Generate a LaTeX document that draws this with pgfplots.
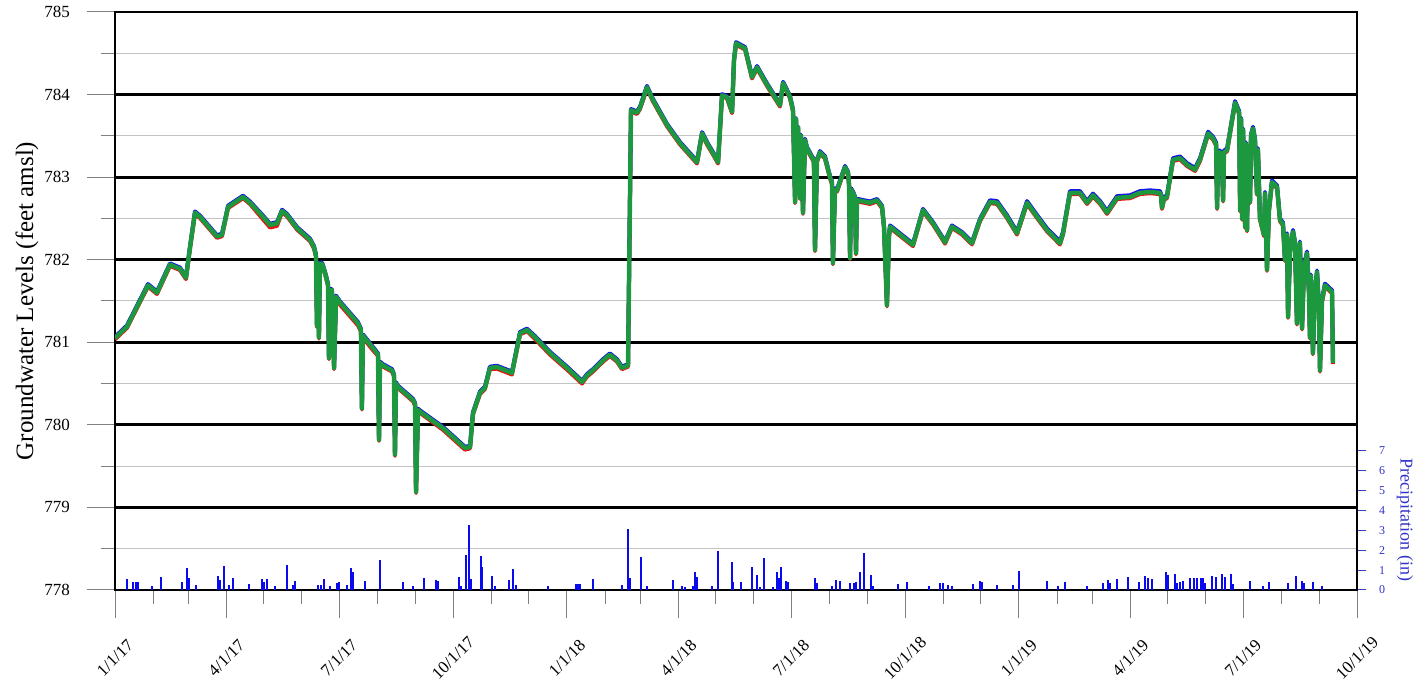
\documentclass[border=0pt]{standalone}
\usepackage{pgfplots}
\pgfplotsset{compat=1.18}
\usepackage{pgfplotstable}
\usepackage{fontspec}
\setmainfont{Liberation Serif}

\definecolor{gwgreen}{RGB}{28,152,62}
\definecolor{gwred}{RGB}{232,20,20}
\definecolor{gwblue}{RGB}{20,20,235}
\definecolor{pcpblue}{RGB}{10,10,240}
\definecolor{pcptext}{RGB}{50,50,200}
\definecolor{minorgrid}{RGB}{195,195,195}

% Groundwater levels (feet amsl); day = days since 1/1/2017
\pgfplotstableread{
day red blue green
0 781.035 781.065 781.05
9.7 781.175 781.205 781.19
17.8 781.415 781.445 781.43
26.6 781.675 781.705 781.69
33.9 781.585 781.615 781.60
44.4 781.925 781.955 781.94
52.5 781.875 781.905 781.89
57.3 781.765 781.795 781.78
60.6 782.135 782.165 782.15
64.6 782.555 782.585 782.57
68.6 782.505 782.535 782.52
82.4 782.265 782.295 782.28
86.4 782.285 782.315 782.30
91.3 782.625 782.655 782.64
103.4 782.745 782.775 782.76
109.0 782.675 782.705 782.69
119.5 782.49 782.535 782.52
125.2 782.39 782.435 782.42
130.8 782.41 782.455 782.44
134.9 782.575 782.605 782.59
138.9 782.525 782.555 782.54
147.0 782.365 782.395 782.38
157.5 782.225 782.255 782.24
160.7 782.135 782.165 782.15
162.3 782.035 782.065 782.05
163.1 781.185 781.215 781.20
163.9 781.935 781.965 781.95
164.7 781.045 781.075 781.06
165.5 781.935 781.965 781.95
167.2 781.935 781.965 781.95
169.6 781.825 781.855 781.84
172.0 781.685 781.715 781.70
172.8 780.795 780.825 780.81
173.6 781.615 781.645 781.63
175.2 781.615 781.645 781.63
176.9 780.675 780.705 780.69
178.5 781.535 781.565 781.55
181.7 781.455 781.495 781.48
196.2 781.205 781.245 781.23
198.6 781.135 781.165 781.15
199.4 780.185 780.215 780.20
200.2 781.065 781.095 781.08
201.9 781.025 781.065 781.05
208.3 780.905 780.945 780.93
212.4 780.835 780.865 780.85
213.2 779.805 779.835 779.82
214.0 780.735 780.765 780.75
216.4 780.705 780.735 780.72
223.7 780.645 780.675 780.66
225.3 780.585 780.615 780.60
226.1 779.625 779.655 779.64
226.9 780.485 780.515 780.50
228.5 780.445 780.475 780.46
240.7 780.285 780.315 780.30
242.3 780.235 780.265 780.25
243.1 779.175 779.205 779.19
244.7 780.165 780.195 780.18
246.3 780.145 780.175 780.16
264.9 779.94 779.975 779.96
282.6 779.70 779.735 779.72
286.7 779.715 779.745 779.73
289.1 780.125 780.155 780.14
294.8 780.375 780.405 780.39
298.8 780.435 780.465 780.45
302.8 780.675 780.705 780.69
308.5 780.68 780.715 780.70
320.6 780.61 780.645 780.63
327.1 781.095 781.125 781.11
332.7 781.135 781.165 781.15
339.2 781.04 781.075 781.06
351.3 780.85 780.885 780.87
365.0 780.67 780.705 780.69
377.1 780.50 780.535 780.52
381.2 780.585 780.615 780.60
386.0 780.645 780.675 780.66
394.1 780.765 780.795 780.78
399.7 780.835 780.865 780.85
405.4 780.765 780.795 780.78
409.4 780.675 780.705 780.69
414.3 780.705 780.735 780.72
416.7 783.795 783.825 783.81
421.5 783.765 783.795 783.78
424.0 783.825 783.855 783.84
429.6 784.075 784.105 784.09
434.5 783.915 783.945 783.93
445.8 783.615 783.645 783.63
456.3 783.395 783.425 783.41
470.0 783.165 783.195 783.18
474.1 783.515 783.545 783.53
478.1 783.395 783.425 783.41
482.9 783.275 783.305 783.29
487.0 783.165 783.195 783.18
490.2 783.975 784.005 783.99
494.2 783.955 783.985 783.97
498.3 783.775 783.805 783.79
499.9 784.405 784.435 784.42
501.5 784.605 784.635 784.62
508.8 784.545 784.575 784.56
514.4 784.195 784.225 784.21
518.5 784.315 784.345 784.33
526.5 784.105 784.135 784.12
537.0 783.855 783.885 783.87
539.5 784.125 784.155 784.14
545.1 783.955 783.985 783.97
547.5 783.795 783.825 783.81
549.2 782.685 782.715 782.70
550.0 783.685 783.715 783.70
550.8 782.835 782.865 782.85
551.6 783.585 783.615 783.60
553.2 782.735 782.765 782.75
554.0 783.485 783.515 783.50
555.6 782.555 782.585 782.57
557.2 783.435 783.465 783.45
558.8 783.335 783.365 783.35
562.8 783.225 783.255 783.24
564.4 783.185 783.215 783.20
565.3 782.105 782.135 782.12
566.9 783.185 783.215 783.20
569.3 783.285 783.315 783.30
573.3 783.225 783.255 783.24
577.4 782.985 783.015 783.00
579.0 782.915 782.945 782.93
579.8 781.945 781.975 781.96
581.4 782.835 782.865 782.85
583.1 782.825 782.855 782.84
589.5 783.105 783.135 783.12
592.0 783.035 783.065 783.05
592.8 782.885 782.915 782.90
593.6 782.005 782.035 782.02
594.4 782.835 782.865 782.85
596.0 782.795 782.825 782.81
597.6 782.735 782.765 782.75
598.4 782.065 782.095 782.08
599.2 782.705 782.735 782.72
600.0 782.705 782.735 782.72
609.7 782.675 782.705 782.69
615.4 782.705 782.735 782.72
619.4 782.625 782.655 782.64
621.0 782.385 782.415 782.40
623.4 781.435 781.465 781.45
625.1 782.285 782.315 782.30
625.9 782.385 782.415 782.40
644.4 782.165 782.195 782.18
652.5 782.585 782.615 782.60
660.6 782.425 782.455 782.44
670.3 782.195 782.225 782.21
675.9 782.385 782.415 782.40
684.0 782.305 782.335 782.32
692.1 782.185 782.215 782.20
698.5 782.465 782.495 782.48
706.6 782.685 782.72 782.70
712.3 782.675 782.71 782.69
720.3 782.505 782.54 782.52
728.4 782.305 782.34 782.32
736.5 782.675 782.71 782.69
744.6 782.505 782.54 782.52
752.6 782.345 782.38 782.36
763.1 782.185 782.22 782.20
765.6 782.305 782.34 782.32
771.2 782.795 782.83 782.81
779.3 782.795 782.83 782.81
785.0 782.675 782.71 782.69
789.8 782.765 782.80 782.78
795.5 782.675 782.71 782.69
801.1 782.555 782.59 782.57
809.2 782.735 782.77 782.75
819.7 782.745 782.78 782.76
827.7 782.795 782.83 782.81
835.8 782.805 782.84 782.82
843.9 782.795 782.83 782.81
844.7 782.765 782.80 782.78
845.5 782.615 782.65 782.63
847.1 782.725 782.76 782.74
849.5 782.745 782.78 782.76
854.4 783.195 783.23 783.21
860.0 783.215 783.25 783.23
865.7 783.135 783.17 783.15
872.2 783.075 783.11 783.09
876.2 783.195 783.23 783.21
882.7 783.515 783.55 783.53
886.7 783.455 783.49 783.47
889.2 783.385 783.42 783.40
890.0 782.615 782.65 782.63
890.8 783.285 783.32 783.30
892.4 783.285 783.32 783.30
894.0 783.235 783.27 783.25
894.8 782.705 782.74 782.72
895.6 783.285 783.32 783.30
898.1 783.315 783.35 783.33
902.1 783.675 783.71 783.69
904.5 783.885 783.92 783.90
907.8 783.765 783.80 783.78
908.6 782.585 782.62 782.60
909.4 783.685 783.72 783.70
910.2 782.485 782.52 782.50
911.0 783.555 783.59 783.57
912.6 782.385 782.42 782.40
913.4 783.385 783.42 783.40
914.2 782.345 782.38 782.36
915.0 783.315 783.35 783.33
916.6 782.685 782.72 782.70
917.4 783.485 783.52 783.50
919.0 783.575 783.61 783.59
920.6 783.435 783.47 783.45
922.2 782.785 782.82 782.80
923.0 783.315 783.35 783.33
924.6 782.485 782.52 782.50
926.3 782.385 782.42 782.40
927.9 782.285 782.32 782.30
928.7 782.785 782.82 782.80
930.3 781.865 781.90 781.88
931.9 782.585 782.62 782.60
934.3 782.925 782.96 782.94
938.4 782.865 782.90 782.88
940.8 782.465 782.50 782.48
943.2 782.415 782.45 782.43
944.8 781.985 782.02 782.00
946.5 782.285 782.32 782.30
947.3 781.295 781.33 781.31
948.9 782.085 782.12 782.10
951.3 782.325 782.36 782.34
952.9 782.185 782.22 782.20
954.5 781.215 781.25 781.23
956.1 781.985 782.02 782.00
956.9 782.185 782.22 782.20
958.6 781.155 781.19 781.17
960.2 781.885 781.92 781.90
962.6 782.065 782.10 782.08
964.2 781.585 781.62 781.60
965.0 781.045 781.08 781.06
965.8 781.785 781.82 781.80
967.4 780.855 780.89 780.87
969.0 781.585 781.62 781.60
970.7 781.835 781.87 781.85
972.3 781.385 781.42 781.40
973.1 780.645 780.68 780.66
974.7 781.485 781.52 781.50
977.1 781.675 781.71 781.69
982.8 781.595 781.63 781.61
983.6 780.735 780.77 780.75
}\gwdata

% Daily precipitation (in)
\pgfplotstableread{
day precip
9.4 0.55
14.8 0.42
16.7 0.42
18.8 0.42
29.6 0.22
36.9 0.67
53.8 0.39
58.4 1.12
59.8 0.59
65.1 0.25
83.4 0.72
84.8 0.50
88.0 1.21
92.1 0.25
95.0 0.59
108.5 0.29
118.4 0.55
120.3 0.42
123.0 0.55
129.2 0.22
139.2 1.26
143.5 0.25
145.4 0.45
164.2 0.25
166.1 0.25
168.8 0.55
173.6 0.22
179.6 0.37
181.2 0.39
187.6 0.25
190.3 1.09
192.5 0.89
201.9 0.45
214.0 1.51
232.8 0.39
240.9 0.22
249.5 0.59
259.2 0.50
261.1 0.45
278.0 0.67
279.4 0.22
283.5 1.76
286.2 3.27
287.5 0.54
295.3 1.71
296.6 1.17
304.2 0.70
306.9 0.22
318.4 0.50
321.1 1.06
323.8 0.25
349.4 0.20
372.0 0.29
374.2 0.29
375.5 0.29
386.3 0.54
409.2 0.25
414.5 3.07
415.9 0.59
424.5 1.68
429.4 0.22
450.4 0.49
457.6 0.20
460.3 0.15
467.0 0.22
468.4 0.92
469.8 0.67
481.9 0.20
487.2 1.98
498.0 1.39
499.3 0.39
505.5 0.39
514.7 1.17
518.7 0.76
520.9 0.17
524.4 1.59
531.6 0.17
534.3 0.89
536.2 0.59
537.6 1.17
541.9 0.47
543.2 0.42
565.3 0.62
567.2 0.34
578.7 0.22
582.3 0.50
585.5 0.45
593.6 0.34
597.1 0.34
598.2 0.39
601.6 0.92
604.9 1.85
610.5 0.76
612.4 0.22
632.6 0.29
639.3 0.39
657.3 0.20
666.2 0.34
669.0 0.34
673.0 0.25
675.7 0.20
693.1 0.29
698.5 0.45
700.4 0.42
712.5 0.25
725.5 0.25
730.0 0.96
752.9 0.45
761.8 0.20
767.2 0.42
784.7 0.20
798.1 0.37
802.2 0.50
803.5 0.34
808.9 0.54
818.3 0.67
827.2 0.42
831.8 0.70
834.5 0.59
837.7 0.54
848.8 0.89
850.1 0.76
856.0 0.79
857.9 0.34
860.0 0.42
862.7 0.47
868.1 0.59
871.4 0.59
874.0 0.62
876.8 0.59
878.9 0.62
880.2 0.34
885.6 0.72
889.1 0.67
893.7 0.81
896.4 0.67
901.0 0.79
903.1 0.29
916.6 0.47
926.8 0.20
932.2 0.42
947.5 0.37
953.7 0.70
958.3 0.47
960.2 0.34
967.7 0.42
974.4 0.22
}\precipdata

\begin{document}
\begin{tikzpicture}
\useasboundingbox (-57.5pt,-55pt) rectangle (653.5pt,295pt);
% groundwater levels
\begin{axis}[
  scale only axis, width=621pt, height=289pt,
  xmin=0, xmax=1003, ymin=778, ymax=785,
  axis line style={line width=1.3pt},
  tick pos=left, tick align=outside,
  xtick={0,90,181,273,365,455,546,638,730,820,911,1003},
  xticklabels={1/1/17,4/1/17,7/1/17,10/1/17,1/1/18,4/1/18,7/1/18,10/1/18,1/1/19,4/1/19,7/1/19,10/1/19},
  minor xtick={31,59,120,151,212,243,304,334,396,424,485,516,577,608,669,699,761,789,850,881,942,973},
  ytick={778,779,...,785},
  minor ytick={778.5,779.5,...,784.5},
  major tick length=14pt, minor tick length=7pt,
  tick style={gray, line width=0.5pt},
  ymajorgrids, yminorgrids,
  major grid style={black, line width=1.4pt},
  minor grid style={minorgrid, line width=0.5pt},
  tick label style={font=\fontsize{8.5}{10}\selectfont},
  /pgf/number format/assume math mode=true,
  yticklabel style={anchor=east, xshift=-5pt},
  xticklabel style={yshift=-20pt, rotate=45, anchor=center},
  ylabel={Groundwater Levels (feet amsl)},
  every axis y label/.style={at={(rel axis cs:-0.0709,0.5)}, rotate=90, anchor=center, font=\fontsize{12.5}{15}\selectfont},
]
\addplot[gwred, line width=2pt, line join=round, no markers] table[x=day, y=red] {\gwdata};
\addplot[gwblue, line width=2pt, line join=round, no markers] table[x=day, y=blue] {\gwdata};
\addplot[gwgreen, line width=2.2pt, line join=round, no markers] table[x=day, y=green] {\gwdata};
\end{axis}
% precipitation on the right-hand scale
\begin{axis}[
  scale only axis, width=621pt, height=289pt,
  xmin=0, xmax=1003, ymin=0, ymax=29.1,
  axis x line=none, axis y line*=right,
  axis line style={line width=1.3pt},
  ytick={0,1,...,7},
  tick align=outside, major tick length=4.5pt,
  ytick style={pcpblue!60!gray, line width=0.5pt},
  yticklabel style={font=\fontsize{6}{7}\selectfont, text=pcptext, anchor=west, xshift=3pt},
  /pgf/number format/assume math mode=true,
  ylabel={Precipitation (in)},
  every axis y label/.style={at={(rel axis cs:1.0386,0.121)}, rotate=-90, anchor=center, font=\fontsize{9}{11}\selectfont, text=pcptext},
]
\addplot[ycomb, pcpblue, line width=1pt, no markers] table[x=day, y=precip] {\precipdata};
\end{axis}
\end{tikzpicture}
\end{document}
